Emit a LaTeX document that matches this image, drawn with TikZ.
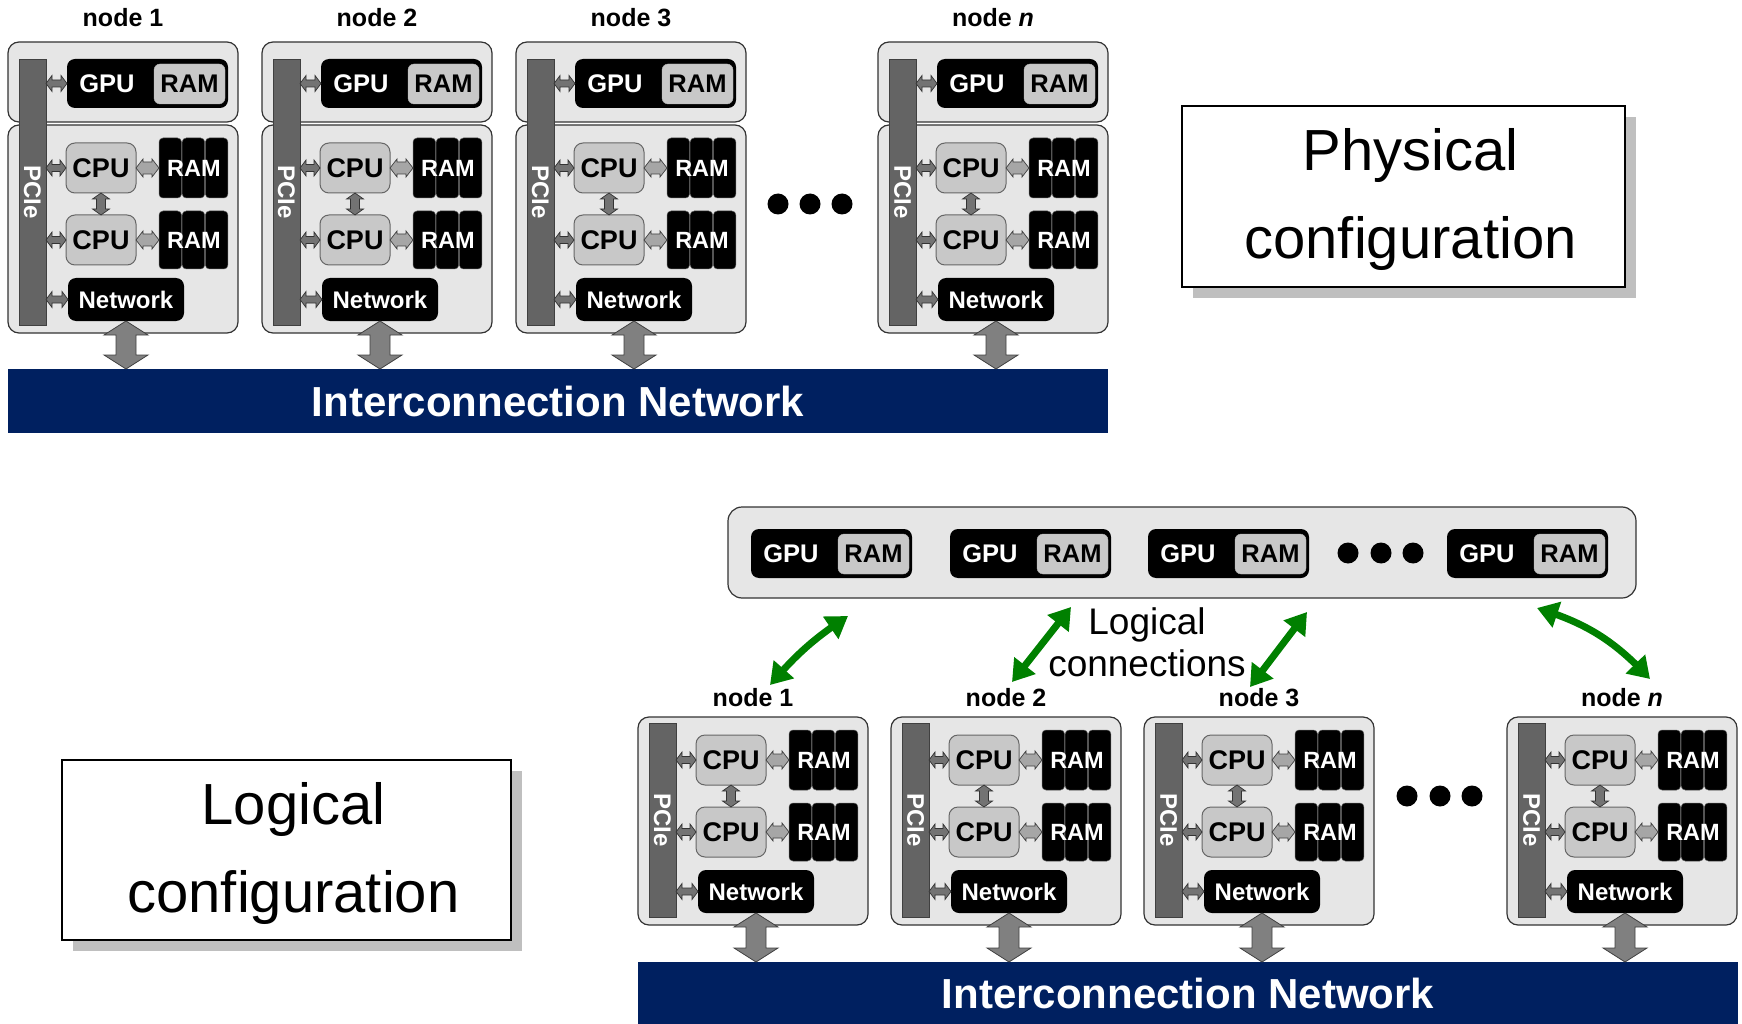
\documentclass[tikz,border=0pt]{standalone}
\usepackage{fontspec}
\setmainfont{Liberation Sans}
\usetikzlibrary{calc,arrows.meta,shadows,bending}

\definecolor{boxfill}{RGB}{230,230,230}
\definecolor{cpufill}{RGB}{200,200,200}
\definecolor{pciefill}{RGB}{100,100,100}
\definecolor{navy}{RGB}{0,32,96}
\definecolor{lgreen}{RGB}{0,128,0}

\newcommand\myfs[2]{\fontsize{#1}{#2}\selectfont}

% block double arrow: #1 style, #2 A, #3 B, #4 shaft half width, #5 head half width, #6 head length
\newcommand\blockarrow[6]{%
 \path[#1] (#2) -- ($($(#2)!#6!(#3)$)!#5!90:(#3)$) -- ($($(#2)!#6!(#3)$)!#4!90:(#3)$)
  -- ($($(#3)!#6!(#2)$)!#4!-90:(#2)$) -- ($($(#3)!#6!(#2)$)!#5!-90:(#2)$) -- (#3)
  -- ($($(#3)!#6!(#2)$)!#5!90:(#2)$) -- ($($(#3)!#6!(#2)$)!#4!90:(#2)$)
  -- ($($(#2)!#6!(#3)$)!#4!-90:(#3)$) -- ($($(#2)!#6!(#3)$)!#5!-90:(#3)$) -- cycle;}

\tikzset{
 base/.style={inner sep=0pt, outer sep=0pt, anchor=north west},
 outerbox/.style={base, draw=black!80, fill=boxfill, rounded corners=11pt, line width=1.2pt},
 pciebar/.style={base, draw=black!75, fill=pciefill, line width=0.8pt},
 cpubox/.style={base, draw=black!60, fill=cpufill, rounded corners=9pt, line width=1pt,
   minimum width=70pt, minimum height=50pt, font=\bfseries\myfs{27}{27}},
 blkbox/.style={base, fill=black, rounded corners=8pt, text=white},
 ramstrip/.style={fill=black, draw=black!65, rounded corners=4pt, line width=0.5pt},
 ramtxt/.style={text=white, font=\bfseries\myfs{23.5}{23.5}},
 gramb/.style={base, fill=cpufill, draw=black!30, rounded corners=6pt, font=\bfseries\myfs{25.5}{25.5}},
 smallarr/.style={fill=black!55, draw=black!80, line width=0.7pt},
 lightarr/.style={fill=black!35, draw=black!75, line width=0.7pt},
 bigarr/.style={fill=black!50, draw=black!75, line width=0.8pt},
 nodelab/.style={font=\bfseries\myfs{25}{25}},
 netbar/.style={base, fill=navy, text=white, font=\bfseries\myfs{42}{42}},
 cfgbox/.style={base, draw=black, fill=white, line width=1.3pt,
   drop shadow={shadow xshift=11pt, shadow yshift=-11pt, fill=black!50}},
 cfgtext/.style={align=center, font=\myfs{58}{88}},
 garrow/.style={draw=lgreen, line width=7pt, {Triangle[width=26pt,length=21pt]}-{Triangle[width=26pt,length=21pt]}},
 dotnode/.style={circle, fill=black, inner sep=0pt, minimum size=21pt},
}

% GPU unit: #1 name, #2 x, #3 y
\newcommand\gpuunit[3]{%
 \node[blkbox, minimum width=161pt, minimum height=49pt] (#1) at (#2,#3) {};
 \node[gramb, minimum width=71pt, minimum height=40pt] (#1ram) at ($(#1.north west)+(87,5)$) {RAM};
 \node[text=white, font=\bfseries\myfs{25.5}{25.5}] (#1txt) at ($(#1.west)+(40,0)$) {GPU};
}

% compute node: #1 prefix, #2 x0, #3 y0, #4 label, #5 bar, #6 pcie top, #7 pcie height, #8 label offset
\newcommand\compnode[8]{%
 \begin{scope}[shift={(#2,#3)}]
  \node[outerbox, minimum width=230pt, minimum height=208pt] (#1box) at (0,0) {};
  \node[pciebar, minimum width=27pt, minimum height=#7pt] (#1pcie) at (11,#6) {};
  \node[rotate=-90, text=white, font=\bfseries\myfs{24}{24}] (#1pcietxt) at (#1pcie.center) {PCIe};
  \node[cpubox] (#1cpuA) at (58,18) {CPU};
  \node[cpubox] (#1cpuB) at (58,90) {CPU};
  \foreach \i in {0,1,2} {
    \path[ramstrip] (151+\i*23.2,13) rectangle ++(22.5,60);
    \path[ramstrip] (151+\i*23.2,86) rectangle ++(22.5,58);}
  \node[base, minimum width=70pt, minimum height=60pt, ramtxt] (#1ramA) at (151,13) {RAM};
  \node[base, minimum width=70pt, minimum height=58pt, ramtxt] (#1ramB) at (151,86) {RAM};
  \node[blkbox, minimum width=116pt, minimum height=43pt, font=\bfseries\myfs{24}{24}] (#1net) at (60,153) {Network};
  \node[nodelab] (#1lab) at (115,#8) {#4};
 \end{scope}
 \coordinate (#1pA) at (#1pcie.east |- #1cpuA.west);
 \coordinate (#1pB) at (#1pcie.east |- #1cpuB.west);
 \coordinate (#1pN) at (#1pcie.east |- #1net.west);
 \coordinate (#1rA) at (#1ramA.west |- #1cpuA.east);
 \coordinate (#1rB) at (#1ramB.west |- #1cpuB.east);
 \coordinate (#1bar) at (#1net.south |- #5.north);
 \blockarrow{smallarr}{#1pA}{#1cpuA.west}{3.5pt}{8pt}{6pt}
 \blockarrow{smallarr}{#1pB}{#1cpuB.west}{3.5pt}{8pt}{6pt}
 \blockarrow{smallarr}{#1pN}{#1net.west}{3.5pt}{8pt}{6pt}
 \blockarrow{lightarr}{#1cpuA.east}{#1rA}{6pt}{9pt}{7pt}
 \blockarrow{lightarr}{#1cpuB.east}{#1rB}{6pt}{9pt}{7pt}
 \blockarrow{smallarr}{#1cpuA.south}{#1cpuB.north}{4.5pt}{8.5pt}{6pt}
 \blockarrow{bigarr}{#1net.south}{#1bar}{10pt}{22pt}{14pt}
}

% top node with GPU: #1 prefix, #2 x0, #3 label
\newcommand\topnode[3]{%
 \node[outerbox, minimum width=230pt, minimum height=80pt] (#1gbox) at (#2,42) {};
 \compnode{#1}{#2}{125}{#3}{topbar}{-66}{266}{-107}
 \gpuunit{#1gpu}{#2+59}{59}
 \coordinate (#1pG) at (#1pcie.east |- #1gpu.west);
 \blockarrow{smallarr}{#1pG}{#1gpu.west}{3.5pt}{8pt}{6pt}
}

\begin{document}
\begin{tikzpicture}[x=1pt,y=-1pt]
\useasboundingbox (0,0) rectangle (1742,1024);

% interconnection networks
\node[netbar, minimum width=1100pt, minimum height=64pt] (topbar) at (8,369) {Interconnection Network};
\node[netbar, minimum width=1100pt, minimum height=62pt] (botbar) at (638,962) {Interconnection Network};

% physical configuration
\topnode{t1}{8}{node 1}
\topnode{t2}{262}{node 2}
\topnode{t3}{516}{node 3}
\topnode{tn}{878}{node \textit{n}}
\node[dotnode] (td1) at (778,204) {};
\node[dotnode] (td2) at (810,204) {};
\node[dotnode] (td3) at (842,204) {};

\node[cfgbox, minimum width=443pt, minimum height=181pt] (phys) at (1182,106) {};
\node[cfgtext] (physt) at ($(phys.center)+(7,3)$) {Physical\\configuration};

% logical configuration
\node[outerbox, minimum width=908pt, minimum height=91pt, rounded corners=14pt] (gbar) at (728,507) {};
\gpuunit{g1}{751}{529}
\gpuunit{g2}{950}{529}
\gpuunit{g3}{1148}{529}
\gpuunit{gn}{1447}{529}
\node[dotnode] (gd1) at (1348,553) {};
\node[dotnode] (gd2) at (1381,553) {};
\node[dotnode] (gd3) at (1413,553) {};

\compnode{b1}{638}{717}{node 1}{botbar}{6}{194}{-19}
\compnode{b2}{891}{717}{node 2}{botbar}{6}{194}{-19}
\compnode{b3}{1144}{717}{node 3}{botbar}{6}{194}{-19}
\compnode{bn}{1507}{717}{node \textit{n}}{botbar}{6}{194}{-19}
\node[dotnode] (bd1) at (1407,796) {};
\node[dotnode] (bd2) at (1440,796) {};
\node[dotnode] (bd3) at (1472,796) {};

\node[cfgbox, minimum width=449pt, minimum height=180pt] (logi) at (62,760) {};
\node[cfgtext] (logit) at ($(logi.center)+(7,3)$) {Logical\\configuration};

\node[font=\myfs{37}{42}, align=center] (lc) at (1147,642) {Logical\\connections};

% logical connections (green)
\coordinate (ga1) at (848,616);  \coordinate (gb1) at (770,685);
\coordinate (ga2) at (1071,607); \coordinate (gb2) at (1012,682);
\coordinate (ga3) at (1307,612); \coordinate (gb3) at (1250,687);
\coordinate (ga4) at (1537,608); \coordinate (gb4) at (1650,679);
\draw[garrow] (ga1) to[bend right=8] (gb1);
\draw[garrow] (ga2) -- (gb2);
\draw[garrow] (ga3) -- (gb3);
\draw[garrow] (ga4) to[bend left=15] (gb4);
\end{tikzpicture}
\end{document}
